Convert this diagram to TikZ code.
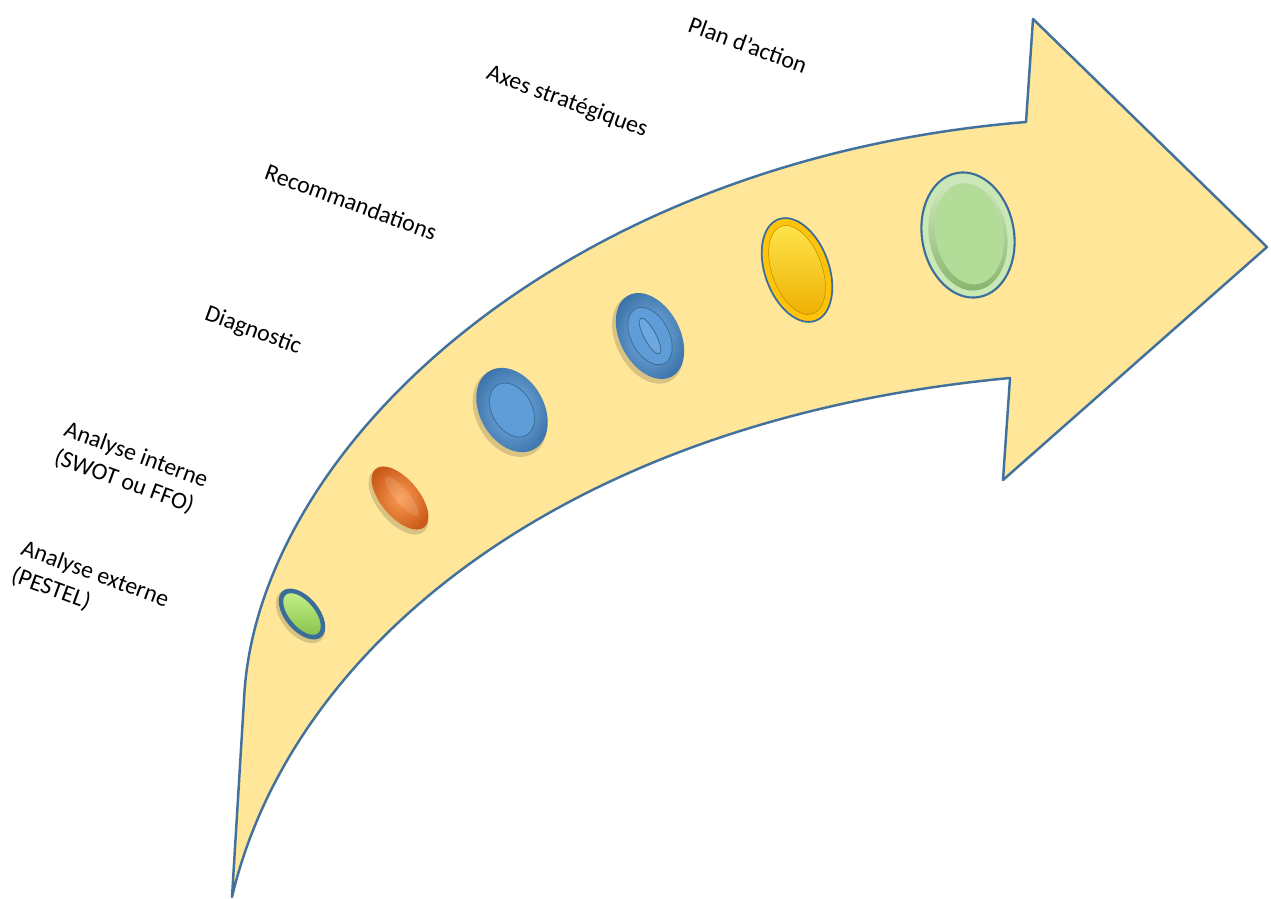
\documentclass[tikz,border=0pt]{standalone}
\usepackage{fontspec}
\setmainfont{Carlito}
\definecolor{arrowfill}{HTML}{FFE699}
\definecolor{arrowline}{HTML}{41719C}
\definecolor{ringblue}{HTML}{3A6D99}
\definecolor{gdark}{HTML}{86C049}
\definecolor{glight}{HTML}{C6F28A}
\definecolor{orlight}{HTML}{FB9A52}
\definecolor{ordark}{HTML}{C95A18}
\definecolor{bllight}{HTML}{7DB5E8}
\definecolor{bldark}{HTML}{3C74AA}
\definecolor{blmid}{HTML}{5E9DD8}
\definecolor{blline}{HTML}{3E6F9C}
\definecolor{yring}{HTML}{FFC40A}
\definecolor{ylight}{HTML}{FFE64D}
\definecolor{ydark}{HTML}{EDAE00}
\definecolor{lgring}{HTML}{C9E8B5}
\definecolor{lginner}{HTML}{B3DC99}
\definecolor{lgdark}{HTML}{86B46B}
\tikzset{
  arrowshape/.style={fill=arrowfill, draw=arrowline, line width=1.4pt, line join=round},
  lbl/.style={rotate=-20, font=\fontsize{13.6}{16.5}\selectfont, align=left, inner sep=0pt},
  shadowfill/.style={fill=black, opacity=.15}
}
\begin{document}
\begin{tikzpicture}[x=0.02cm, y=-0.02cm]
\useasboundingbox (0,0) rectangle (1271,899);

% big curved arrow
\draw[arrowshape] (232,897) -- (244,700)
  .. controls (255,450) and (560,160) .. (1026,122)
  -- (1033,19) -- (1267,247) -- (1003,480) -- (1010,378)
  .. controls (560,420) and (290,650) .. (232,897) -- cycle;

% button 1 : small green
\begin{scope}[shift={(302,614)}, rotate=-50]
  \fill[shadowfill] (0.5pt,-1.5pt) ellipse [x radius=0.63cm, y radius=0.37cm];
  \fill[ringblue] (0,0) ellipse [x radius=0.6cm, y radius=0.34cm];
  \shade[top color=glight, bottom color=gdark] (0,0) ellipse [x radius=0.5cm, y radius=0.25cm];
\end{scope}

% button 2 : orange
\begin{scope}[shift={(400,498)}, rotate=-50]
  \fill[shadowfill] (1pt,-2pt) ellipse [x radius=0.79cm, y radius=0.41cm];
  \shade[inner color=orlight, outer color=ordark] (0,0) ellipse [x radius=0.76cm, y radius=0.38cm];
  \fill[white, opacity=.12] (0,0.05cm) ellipse [x radius=0.5cm, y radius=0.14cm];
\end{scope}

% button 3 : blue
\begin{scope}[shift={(512,410)}, rotate=-60]
  \fill[shadowfill] (1pt,-2pt) ellipse [x radius=0.93cm, y radius=0.67cm];
  \shade[inner color=bllight, outer color=bldark] (0,0) ellipse [x radius=0.9cm, y radius=0.64cm];
  \fill[blmid] (0,0) ellipse [x radius=0.58cm, y radius=0.4cm];
  \draw[blline, line width=0.5pt] (0,0) ellipse [x radius=0.58cm, y radius=0.4cm];
\end{scope}

% button 4 : blue with lens
\begin{scope}[shift={(650,336)}, rotate=-62]
  \fill[shadowfill] (1pt,-2pt) ellipse [x radius=0.95cm, y radius=0.63cm];
  \shade[inner color=bllight, outer color=bldark] (0,0) ellipse [x radius=0.92cm, y radius=0.6cm];
  \fill[blmid] (0,0) ellipse [x radius=0.62cm, y radius=0.38cm];
  \draw[blline, line width=0.5pt] (0,0) ellipse [x radius=0.62cm, y radius=0.38cm];
  \draw[blline, line width=0.5pt, fill=bllight!50!blmid] (0,0) ellipse [x radius=0.4cm, y radius=0.12cm];
\end{scope}

% button 5 : yellow
\begin{scope}[shift={(797,270)}, rotate=-70]
  \fill[yring] (0,0) ellipse [x radius=1.08cm, y radius=0.64cm];
  \draw[ringblue, line width=1pt] (0,0) ellipse [x radius=1.08cm, y radius=0.64cm];
  \shade[top color=ylight, bottom color=ydark] (0,0) ellipse [x radius=0.93cm, y radius=0.5cm];
  \draw[ydark!80!black, line width=0.3pt] (0,0) ellipse [x radius=0.93cm, y radius=0.5cm];
\end{scope}

% button 6 : large light green
\begin{scope}[shift={(968,235)}, rotate=-80]
  \fill[lgring] (0,0) ellipse [x radius=1.26cm, y radius=0.92cm];
  \draw[ringblue, line width=1.2pt] (0,0) ellipse [x radius=1.26cm, y radius=0.92cm];
  \shade[top color=lginner!60!white, bottom color=lgdark] (0,0) ellipse [x radius=1.12cm, y radius=0.78cm];
  \fill[lginner] (-0.02cm,0.03cm) ellipse [x radius=1.02cm, y radius=0.68cm];
\end{scope}

% labels
\node[lbl] (plan) at (748,45) {Plan d’action};
\node[lbl] (axes) at (567,102) {Axes stratégiques};
\node[lbl] (reco) at (351,202) {Recommandations};
\node[lbl] (diag) at (253,331) {Diagnostic};
\node[lbl] (inter) at (131,469) {Analyse interne\\(SWOT ou FFO)};
\node[lbl] (exter) at (90,588) {Analyse externe\\(PESTEL)};
\end{tikzpicture}
\end{document}
